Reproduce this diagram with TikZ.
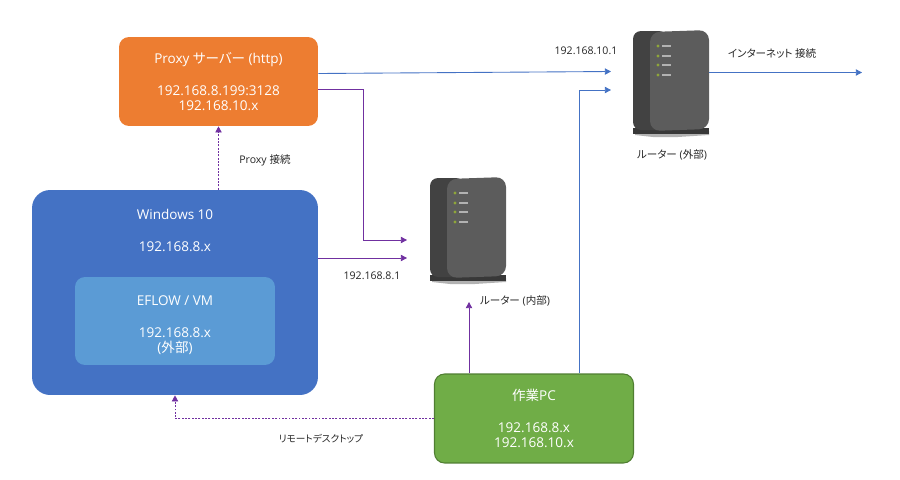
\documentclass[tikz,border=0pt]{standalone}
\usepackage{fontspec}
\setmainfont{Open Sans}
\newfontfamily\jpfont[RawFeature=+palt]{Noto Sans CJK JP}
\newcommand{\jp}[1]{{\jpfont #1}}
\usetikzlibrary{arrows.meta, positioning, calc}
\definecolor{myo}   {HTML}{ED7D31}
\definecolor{myb}   {HTML}{4472C4}
\definecolor{mylb}  {HTML}{5B9BD5}
\definecolor{myg}   {HTML}{70AD47}
\definecolor{mygd}  {HTML}{507E32}
\definecolor{myp}   {HTML}{7030A0}
\definecolor{myled} {HTML}{8FA63A}
\tikzset{
    boxtext/.style={align=center, text=white, font=\fontsize{7.7}{8.5}\selectfont},
    hostbox/.style={boxtext, minimum width=3.98cm, minimum height=1.78cm, rounded corners=0.2cm},
    smalllabel/.style={font=\fontsize{6}{7}\selectfont, text=black!85},
    bluelink/.style={draw=myb, line width=0.5pt, -{Triangle[length=3.5pt,width=3.6pt]}},
    purplelink/.style={draw=myp, line width=0.5pt, -{Triangle[length=3.5pt,width=3.6pt]}},
    dashlink/.style={purplelink, dash pattern=on 1.1pt off 0.8pt},
    routerbox/.pic={
        \fill[black!30] (2,103) -- (76,101) -- (76,105) -- (45,107) -- (20,107) -- (2,105) -- cycle;
        \fill[black!78] (0,98) rectangle (76,104);
        \fill[black!74, rounded corners=0.16cm] (0,1) rectangle (34,100);
        \fill[black!64, rounded corners=0.2cm] (17,2) -- (76,0) -- (76,99) -- (17,101) -- cycle;
        \foreach \ledy in {16,26,35,45}
        {
            \fill[myled] (25,\ledy) circle (1.6);
            \fill[black!30] (29,\ledy-0.7) rectangle (38,\ledy+0.7);
        }
        \coordinate (-right) at (76,42.5);
    }
}
\begin{document}
\begin{tikzpicture}[x=0.02cm, y=-0.02cm]
    \useasboundingbox (0,0) rectangle (900,480);
    \node[hostbox, fill=myo] (proxy) at (218.5,81.5) {Proxy \jp{サーバー} (http)\\[9.5pt]192.168.8.199:3128\\192.168.10.x};
    \node[boxtext, minimum width=5.72cm, minimum height=4.1cm, rounded corners=0.36cm, fill=myb] (windows) at (175,292.5) {};
    \node[boxtext, above=0pt of windows.north, yshift=-1.36cm] (windowstext) {Windows 10\\[9.5pt]192.168.8.x};
    \node[hostbox, fill=mylb, minimum width=4cm, minimum height=1.76cm] (eflow) at (175,321) {};
    \node[boxtext] (eflowtext) at (175,325) {EFLOW / VM\\[9.5pt]192.168.8.x\\(\jp{外部})};
    \node[hostbox, fill=myg, draw=mygd, line width=0.6pt] (pc) at (534,418.5) {\jp{作業}PC\\[9.5pt]192.168.8.x\\192.168.10.x};

    \pic (rtint) at (430,177) {routerbox};
    \pic (rtext) at (633,30) {routerbox};

    \coordinate (intina) at (407,240);
    \coordinate (intinb) at (407,258);
    \coordinate (intinc) at (469,302);
    \coordinate (intbend) at (363,240);
    \coordinate (extina) at (611,71.5);
    \coordinate (extinb) at (611,90);
    \coordinate (netout) at (862,72.5);

    \draw[bluelink] ($(proxy.east)+(0,-8)$) -- (extina);
    \draw[bluelink] ($(pc.north)+(45,0)$) |- (extinb);
    \draw[bluelink] (rtext-right) -- (netout);
    \draw[purplelink] ($(proxy.east)+(0,7.5)$) -| (intbend) -- (intina);
    \draw[purplelink] (windows.east |- intinb) -- (intinb);
    \draw[purplelink] ($(pc.north)+(-65,0)$) -- (intinc);
    \draw[dashlink] (proxy.south |- windows.north) -- (proxy.south);
    \draw[dashlink] (pc.west) -| (windows.south);

    \node[smalllabel] (proxylabel) at (265,160) {Proxy \jp{接続}};
    \node[smalllabel] (extiplabel) at (586,51) {192.168.10.1};
    \node[smalllabel] (intiplabel) at (372,276) {192.168.8.1};
    \node[smalllabel] (netlabel) at (772,53) {\jp{インターネット 接続}};
    \node[smalllabel] (extlabel) at (672,155) {\jp{ルーター} (\jp{外部})};
    \node[smalllabel] (intlabel) at (515,301) {\jp{ルーター} (\jp{内部})};
    \node[smalllabel, font=\fontsize{5.5}{7}\selectfont] (rdplabel) at (321,439) {\jp{リモートデスクトップ}};
\end{tikzpicture}
\end{document}
